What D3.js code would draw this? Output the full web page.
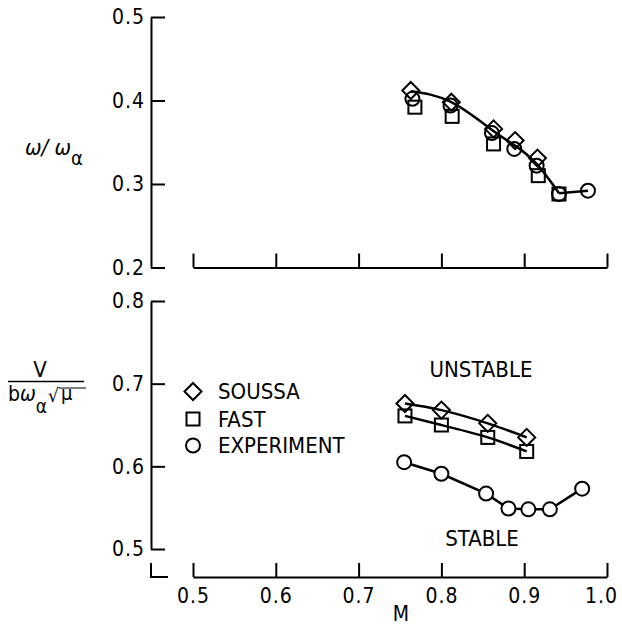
<!DOCTYPE html>
<html lang="en">
<head>
<meta charset="UTF-8">
<script src="https://d3js.org/d3.v7.min.js"></script>
<title>Flutter boundary</title>
<style>
html, body { margin: 0; padding: 0; background: #fff; }
svg { display: block; }
text { font-family: 'DejaVu Sans Condensed', 'Liberation Sans Narrow', 'Arial Narrow', sans-serif; fill: #000; }
.tick text { font-size: 21px; letter-spacing: 1px; }
.domain, .tick line { stroke: #000; stroke-width: 2; }
</style>
</head>
<body>
<svg id="canvas"></svg>
<script>
// top panel: omega / omega_alpha vs Mach
let topSoussaM = [0.763, 0.812, 0.863, 0.889, 0.916]
let topSoussaV = [0.412, 0.398, 0.366, 0.352, 0.331]
let topFastM = [0.768, 0.813, 0.863, 0.917, 0.942]
let topFastV = [0.392, 0.381, 0.348, 0.310, 0.288]
let topExpM = [0.765, 0.811, 0.861, 0.888, 0.915, 0.942, 0.977]
let topExpV = [0.402, 0.394, 0.361, 0.342, 0.322, 0.288, 0.292]
// faired curve through the top data, then straight to the last point
let topCurveM = [0.763, 0.812, 0.862, 0.889, 0.915, 0.942]
let topCurveV = [0.411, 0.398, 0.364, 0.346, 0.324, 0.289]
let topTailM = [0.942, 0.977]
let topTailV = [0.289, 0.292]

// bottom panel: flutter speed index vs Mach
let botSoussaM = [0.756, 0.800, 0.856, 0.903]
let botSoussaV = [0.676, 0.668, 0.652, 0.635]
let botFastM = [0.756, 0.800, 0.856, 0.903]
let botFastV = [0.661, 0.650, 0.635, 0.618]
let botExpM = [0.755, 0.800, 0.854, 0.881, 0.905, 0.931, 0.970]
let botExpV = [0.605, 0.591, 0.567, 0.549, 0.548, 0.548, 0.573]

let machTicks = [0.5, 0.6, 0.7, 0.8, 0.9, 1.0]
let topTicks = [0.2, 0.3, 0.4, 0.5]
let botTicks = [0.5, 0.6, 0.7, 0.8]
let legendNames = ['SOUSSA', 'FAST', 'EXPERIMENT']

let width = 622
let height = 628
let axisX = 151
let topAxisY = 267.5
let botAxisY = 577

let svg = d3.select('#canvas').attr('width', width).attr('height', height)

let xScale = d3.scaleLinear().domain([0.5, 1.0]).range([193, 607])
let yTop = d3.scaleLinear().domain([0.2, 0.5]).range([topAxisY, 17])
let yBot = d3.scaleLinear().domain([0.5, 0.8]).range([549, 301])

let fmt = d3.format('.1f')

// axes
svg.append('g')
    .attr('transform', 'translate(' + axisX + ',0)')
    .call(d3.axisLeft(yTop).tickValues(topTicks).tickSize(-14).tickSizeOuter(0).tickPadding(6).tickFormat(fmt))
svg.append('g')
    .attr('transform', 'translate(0,' + topAxisY + ')')
    .call(d3.axisBottom(xScale).tickValues(machTicks).tickSize(-14).tickSizeOuter(0).tickFormat(''))
svg.append('g')
    .attr('transform', 'translate(' + axisX + ',0)')
    .call(d3.axisLeft(yBot).tickValues(botTicks).tickSize(-14).tickSizeOuter(0).tickPadding(6).tickFormat(fmt))
let xAxisG = svg.append('g')
    .attr('transform', 'translate(0,' + botAxisY + ')')
    .call(d3.axisBottom(xScale).tickValues(machTicks).tickSize(-14).tickSizeOuter(0).tickPadding(11).tickFormat(fmt))

// last label sits a little left so it stays on the page
xAxisG.selectAll('.tick text').filter(d => d === 1.0).attr('dx', -6)

svg.selectAll('.domain').attr('fill', 'none')

// little corner piece of the broken axis
svg.append('path')
    .attr('d', 'M' + axisX + ',' + (botAxisY - 14) + 'V' + botAxisY + 'H' + (axisX + 17))
    .attr('fill', 'none').attr('stroke', '#000').attr('stroke-width', 2)

// markers
let drawMarker = (g, kind, cx, cy, fill) => {
    if (kind === 'diamond') {
        g.append('path')
            .attr('d', 'M' + cx + ',' + (cy - 8.5) + 'L' + (cx + 8.5) + ',' + cy + 'L' + cx + ',' + (cy + 8.5) + 'L' + (cx - 8.5) + ',' + cy + 'Z')
            .attr('fill', fill).attr('stroke', '#000').attr('stroke-width', 2)
    } else if (kind === 'square') {
        g.append('rect')
            .attr('x', cx - 6.5).attr('y', cy - 6.5).attr('width', 13).attr('height', 13)
            .attr('fill', fill).attr('stroke', '#000').attr('stroke-width', 2)
    } else {
        g.append('circle')
            .attr('cx', cx).attr('cy', cy).attr('r', 7)
            .attr('fill', fill).attr('stroke', '#000').attr('stroke-width', 2)
    }
}

let drawLine = (ms, vs, yScale, curve) => {
    let pts = ms.map((m, i) => [m, vs[i]])
    svg.append('path')
        .datum(pts)
        .attr('d', d3.line().x(d => xScale(d[0])).y(d => yScale(d[1])).curve(curve))
        .attr('fill', 'none').attr('stroke', '#000').attr('stroke-width', 2.5)
}

let drawSeries = (ms, vs, yScale, kind, fill) => {
    let g = svg.append('g')
    ms.forEach((m, i) => drawMarker(g, kind, xScale(m), yScale(vs[i]), fill))
}

// top panel
drawLine(topCurveM, topCurveV, yTop, d3.curveNatural)
drawLine(topTailM, topTailV, yTop, d3.curveLinear)
drawSeries(topFastM, topFastV, yTop, 'square', 'none')
drawSeries(topExpM, topExpV, yTop, 'circle', 'none')
drawSeries(topSoussaM, topSoussaV, yTop, 'diamond', 'none')

// bottom panel
drawLine(botSoussaM, botSoussaV, yBot, d3.curveNatural)
drawLine(botFastM, botFastV, yBot, d3.curveNatural)
drawLine(botExpM, botExpV, yBot, d3.curveLinear)
drawSeries(botFastM, botFastV, yBot, 'square', 'none')
drawSeries(botSoussaM, botSoussaV, yBot, 'diamond', 'none')
drawSeries(botExpM, botExpV, yBot, 'circle', '#fff')

// legend
let legendKinds = ['diamond', 'square', 'circle']
let legendY = [391.5, 419, 445.5]
legendNames.forEach((name, i) => {
    let g = svg.append('g')
    drawMarker(g, legendKinds[i], 193, legendY[i], 'none')
    g.append('text').attr('x', 218).attr('y', legendY[i] + 7.5)
        .style('font-size', '22px').style('letter-spacing', '0px').text(name)
})

// region labels
svg.append('text').attr('x', 481).attr('y', 377).attr('text-anchor', 'middle')
    .style('font-size', '22px').text('UNSTABLE')
svg.append('text').attr('x', 482).attr('y', 546).attr('text-anchor', 'middle')
    .style('font-size', '22px').text('STABLE')

// x label
svg.append('text').attr('x', 401).attr('y', 621).attr('text-anchor', 'middle')
    .style('font-size', '21px').text('M')

// top y label: omega / omega_alpha
let tl = svg.append('text').attr('x', 25).attr('y', 155).style('font-size', '22px')
tl.append('tspan').style('font-style', 'italic').text('\u03c9/ \u03c9')
tl.append('tspan').attr('dy', 10).style('font-size', '20px').text('\u03b1')

// bottom y label: V / (b omega_alpha sqrt(mu))
svg.append('text').attr('x', 40).attr('y', 377).attr('text-anchor', 'middle')
    .style('font-size', '22px').text('V')
svg.append('line').attr('x1', 8).attr('x2', 84).attr('y1', 381.5).attr('y2', 381.5)
    .attr('stroke', '#000').attr('stroke-width', 1.5)
let bl = svg.append('text').attr('x', 8).attr('y', 401).style('font-size', '21px')
bl.append('tspan').text('b')
bl.append('tspan').style('font-style', 'italic').text('\u03c9')
bl.append('tspan').attr('dy', 12).style('font-size', '19px').text('\u03b1')
svg.append('text').attr('x', 48).attr('y', 402).style('font-size', '19px').text('\u221a')
svg.append('text').attr('x', 61).attr('y', 400).style('font-size', '20px').text('\u03bc')
svg.append('line').attr('x1', 59).attr('x2', 86).attr('y1', 388).attr('y2', 388)
    .attr('stroke', '#000').attr('stroke-width', 1)
</script>
</body>
</html>
